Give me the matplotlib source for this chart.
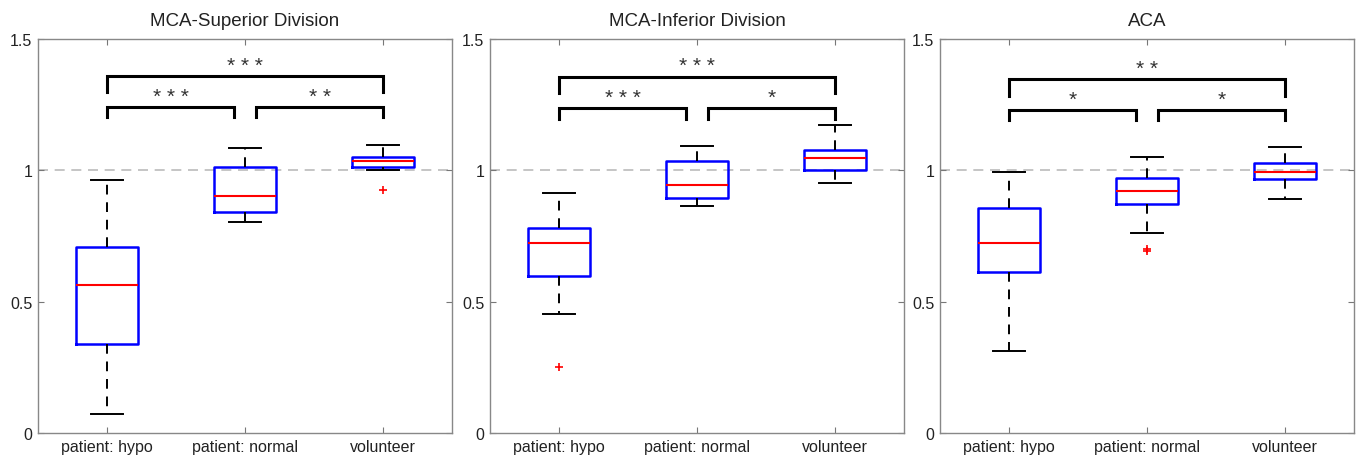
import numpy as np
import matplotlib.pyplot as plt

plt.rcParams['font.family'] = ['Liberation Sans', 'DejaVu Sans']

groups = ['patient: hypo', 'patient: normal', 'volunteer']
titles = ['MCA-Superior Division', 'MCA-Inferior Division', 'ACA']

# box statistics: whislo, q1, med, q3, whishi, outliers
sup_stats = [
    (0.072, 0.338, 0.563, 0.709, 0.963, []),
    (0.802, 0.843, 0.901, 1.011, 1.084, []),
    (1.001, 1.014, 1.034, 1.051, 1.098, [0.926]),
]
inf_stats = [
    (0.452, 0.599, 0.722, 0.780, 0.914, [0.250]),
    (0.863, 0.895, 0.943, 1.034, 1.091, []),
    (0.953, 1.001, 1.046, 1.076, 1.171, []),
]
aca_stats = [
    (0.312, 0.613, 0.722, 0.857, 0.992, []),
    (0.763, 0.872, 0.921, 0.971, 1.051, [0.692, 0.700]),
    (0.890, 0.968, 0.995, 1.029, 1.089, []),
]

# significance brackets: (x1, x2, y, leg bottom, stars)
sup_sig = [(1, 3, 1.360, 1.297, '* * *'), (1, 1.92, 1.240, 1.202, '* * *'), (2.08, 3, 1.240, 1.202, '* *')]
inf_sig = [(1, 3, 1.357, 1.293, '* * *'), (1, 1.92, 1.236, 1.195, '* * *'), (2.08, 3, 1.236, 1.195, '*')]
aca_sig = [(1, 3, 1.348, 1.284, '* *'), (1, 1.92, 1.230, 1.190, '*'), (2.08, 3, 1.230, 1.190, '*')]

panels = [(sup_stats, sup_sig), (inf_stats, inf_sig), (aca_stats, aca_sig)]
lefts = [38, 490, 940]

fig = plt.figure(figsize=(13.6, 4.6), dpi=100)

for i, (stats, sig) in enumerate(panels):
    ax = fig.add_axes([lefts[i] / 1360, 1 - 434 / 460, 414 / 1360, 394 / 460])
    bxp = []
    for s in stats:
        bxp.append(dict(whislo=s[0], q1=s[1], med=s[2], q3=s[3], whishi=s[4], fliers=s[5]))
    ax.axhline(1.0, color='#bbbbbb', ls=(0, (6, 4)), lw=1.2, zorder=0)
    ax.bxp(bxp, positions=[1, 2, 3], widths=0.45, showfliers=True,
           boxprops=dict(color='blue', lw=1.8),
           medianprops=dict(color='red', lw=1.5),
           whiskerprops=dict(color='black', lw=1.4, ls=(0, (5, 4))),
           capprops=dict(color='black', lw=1.4),
           flierprops=dict(marker='+', markeredgecolor='red', markersize=6, mew=1.2))
    for x1, x2, y, yb, stars in sig:
        ax.plot([x1, x1, x2, x2], [yb, y, y, yb], color='black', lw=2.2, solid_joinstyle='miter')
        ax.text((x1 + x2) / 2, y + 0.02, stars, ha='center', va='baseline',
                fontsize=15, color='#333333')
    ax.set_xlim(0.5, 3.5)
    ax.set_ylim(0, 1.5)
    ax.set_yticks([0, 0.5, 1, 1.5])
    ax.set_yticklabels(['0', '0.5', '1', '1.5'])
    ax.set_xticks([1, 2, 3])
    ax.set_xticklabels(groups)
    ax.tick_params(direction='in', top=True, right=True, length=4, width=0.8,
                   color='#777777', labelsize=11.5, labelcolor='#222222', pad=4)
    for sp in ax.spines.values():
        sp.set_color('#888888')
        sp.set_linewidth(1.0)
    ax.set_title(titles[i], fontsize=13.5, color='#222222', pad=10)

fig.savefig('out.png', dpi=100)
